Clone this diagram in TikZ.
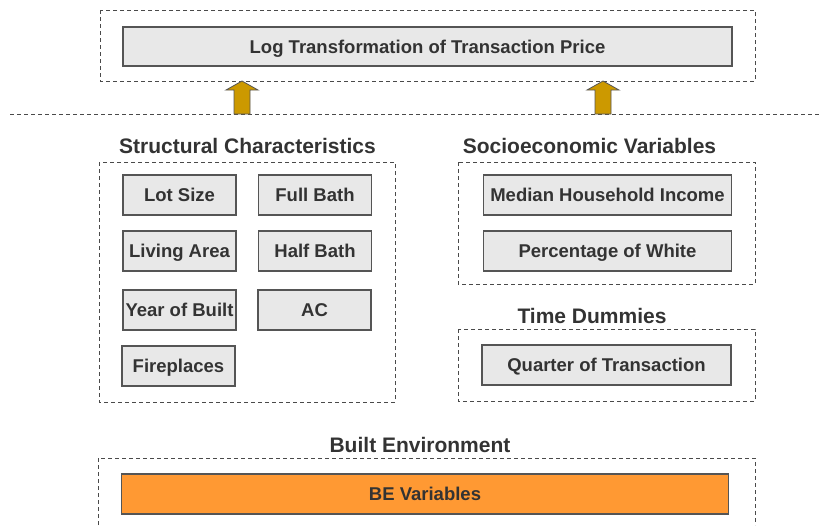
\documentclass[tikz,border=0pt]{standalone}
\usepackage{fontspec}
\setmainfont{Liberation Sans}
\usetikzlibrary{calc}
\definecolor{txt}{HTML}{333333}
\definecolor{boxfill}{HTML}{E8E8E8}
\definecolor{boxline}{HTML}{555555}
\definecolor{dashc}{HTML}{4A4A4A}
\definecolor{beorange}{HTML}{FF9933}
\definecolor{arrowgold}{HTML}{CC9900}
\tikzset{
  vbox/.style={draw=boxline, line width=1.1pt, fill=boxfill, inner sep=0pt,
    text=txt, font=\fontsize{18.5}{20}\bfseries\selectfont,
    text height=13.2pt, text depth=0pt, align=center},
  grp/.style={draw=dashc, line width=0.8pt, dash pattern=on 4pt off 3pt},
  ttl/.style={text=txt, font=\fontsize{21}{23}\bfseries\selectfont, inner sep=0pt, anchor=base},
  blockarrow/.style={fill=arrowgold, draw=boxline, line width=0.8pt, line join=miter}
}
\begin{document}
\begin{tikzpicture}[x=1pt,y=-1pt]
\useasboundingbox (0,0) rectangle (822,525);
% top group
\draw[grp] (100,10) rectangle (755,81);
\node[vbox, minimum width=609pt, minimum height=39pt] (log) at (427.5,46.5) {Log Transformation of Transaction Price};
% separator line
\coordinate (sepL) at (10,114);
\coordinate (sepR) at (820,114);
\draw[grp] (sepL) -- (sepR);
% block arrows
\foreach \cx/\nm in {242/a1,603/a2}{
  \coordinate (\nm base) at (\cx,114);
  \coordinate (\nm tip) at (\cx,81);
  \draw[blockarrow] ($(\nm base)+(-8,0)$) -- ($(\nm base)+(8,0)$) -- ($(\nm tip)+(8,9)$) -- ($(\nm tip)+(16,9)$) -- (\nm tip) -- ($(\nm tip)+(-16,9)$) -- ($(\nm tip)+(-8,9)$) -- cycle;
}
% structural characteristics
\node[ttl] (stt) at (247.5,153) {Structural Characteristics};
\draw[grp] (99,162) rectangle (395,402);
\node[vbox, minimum width=113pt, minimum height=40pt] (lot) at (179.5,195) {Lot Size};
\node[vbox, minimum width=113pt, minimum height=40pt] (full) at (315,195) {Full Bath};
\node[vbox, minimum width=113pt, minimum height=40pt] (living) at (179.5,251) {Living Area};
\node[vbox, minimum width=113pt, minimum height=40pt] (half) at (315,251) {Half Bath};
\node[vbox, minimum width=113pt, minimum height=40pt] (year) at (179.5,310) {Year of Built};
\node[vbox, minimum width=113pt, minimum height=40pt] (ac) at (314.5,310) {AC};
\node[vbox, minimum width=113pt, minimum height=40pt] (fire) at (178.5,366) {Fireplaces};
% socioeconomic
\node[ttl] (sot) at (589.5,153) {Socioeconomic Variables};
\draw[grp] (458,162) rectangle (755,284);
\node[vbox, minimum width=248pt, minimum height=40pt] (income) at (607.5,195) {Median Household Income};
\node[vbox, minimum width=248pt, minimum height=40pt] (white) at (607.5,251) {Percentage of White};
% time dummies
\node[ttl] (tdt) at (592,323) {Time Dummies};
\draw[grp] (458,329) rectangle (755,401);
\node[vbox, minimum width=249pt, minimum height=40pt] (quarter) at (606.5,365) {Quarter of Transaction};
% built environment
\node[ttl] (bet) at (420,452) {Built Environment};
\draw[grp] (98,525) -- (98,458) -- (755,458) -- (755,525);
\node[vbox, fill=beorange, minimum width=607pt, minimum height=40pt] (be) at (425,494) {BE Variables};
\end{tikzpicture}
\end{document}
